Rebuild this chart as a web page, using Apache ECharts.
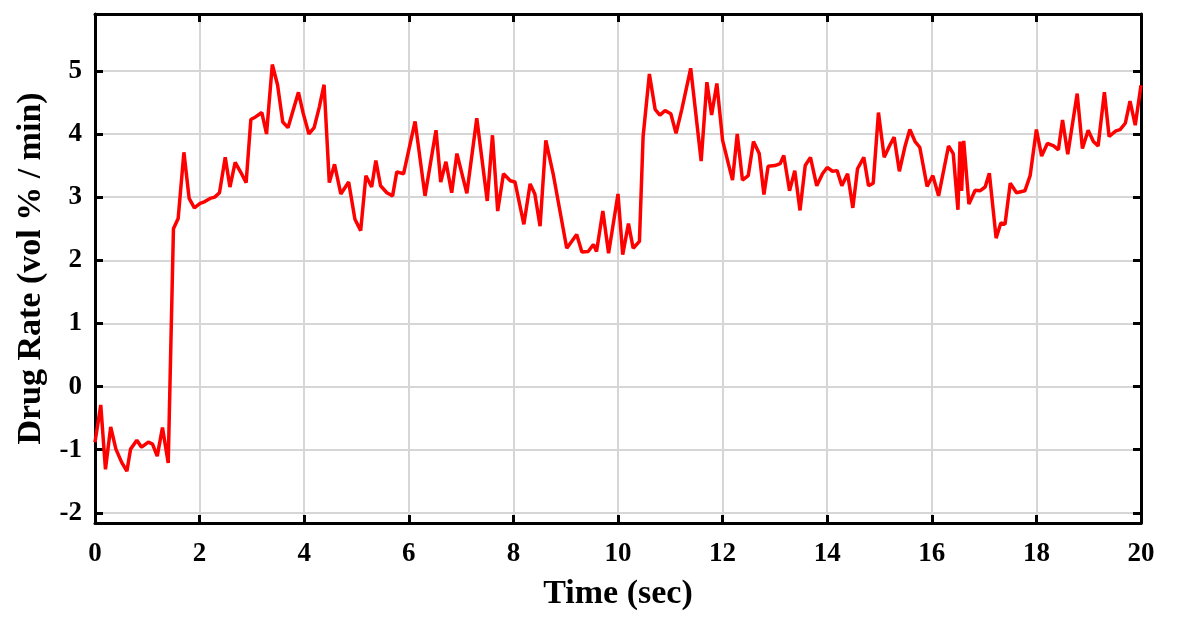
<!DOCTYPE html>
<html>
<head>
<meta charset="utf-8">
<script src="https://cdn.jsdelivr.net/npm/echarts@6/dist/echarts.min.js"></script>
<style>
  html, body { margin: 0; padding: 0; background: #fff; }
  #main { width: 1188px; height: 629px; }
</style>
</head>
<body>
<div id="main"></div>
<script>
// 时间 (sec)
var times = [
  0.0, 0.11, 0.2, 0.3, 0.4, 0.51, 0.61, 0.68, 0.8, 0.89,
  1.02, 1.1, 1.19, 1.29, 1.4, 1.5, 1.59, 1.7, 1.8, 1.9,
  2.01, 2.1, 2.2, 2.29, 2.38, 2.49, 2.58, 2.68, 2.79, 2.89,
  2.98, 3.07, 3.19, 3.28, 3.39, 3.49, 3.59, 3.69, 3.79, 3.89,
  3.98, 4.09, 4.19, 4.29, 4.38, 4.48, 4.58, 4.7, 4.85, 4.97,
  5.08, 5.18, 5.29, 5.37, 5.46, 5.58, 5.69, 5.77, 5.9, 6.12,
  6.31, 6.52, 6.61, 6.71, 6.82, 6.92, 7.11, 7.3, 7.5, 7.6,
  7.7, 7.81, 7.94, 8.03, 8.2, 8.32, 8.41, 8.51, 8.62, 8.76,
  8.89, 9.02, 9.21, 9.31, 9.43, 9.53, 9.59, 9.71, 9.82, 10.0,
  10.09, 10.2, 10.29, 10.41, 10.48, 10.6, 10.71, 10.8, 10.9, 11.01,
  11.11, 11.22, 11.39, 11.59, 11.7, 11.79, 11.89, 12.0, 12.11, 12.19,
  12.28, 12.38, 12.49, 12.59, 12.7, 12.79, 12.87, 13.0, 13.1, 13.17,
  13.28, 13.38, 13.48, 13.58, 13.68, 13.8, 13.91, 14.0, 14.1, 14.19,
  14.28, 14.39, 14.49, 14.58, 14.7, 14.79, 14.88, 14.98, 15.09, 15.19,
  15.28, 15.38, 15.49, 15.58, 15.68, 15.77, 15.91, 16.02, 16.13, 16.32,
  16.41, 16.5, 16.54, 16.57, 16.61, 16.71, 16.83, 16.92, 17.02, 17.1,
  17.23, 17.32, 17.4, 17.5, 17.62, 17.78, 17.88, 18.0, 18.1, 18.21,
  18.33, 18.42, 18.5, 18.6, 18.78, 18.88, 18.99, 19.09, 19.18, 19.3,
  19.39, 19.52, 19.6, 19.7, 19.79, 19.89, 20.0
];
// 给药速率 (vol % / min)
var rates = [
  -0.88, -0.29, -1.31, -0.64, -0.99, -1.2, -1.34, -0.99, -0.85, -0.96,
  -0.88, -0.91, -1.1, -0.65, -1.21, 2.5, 2.66, 3.71, 2.98, 2.83,
  2.9, 2.93, 2.98, 3.0, 3.07, 3.63, 3.16, 3.55, 3.39, 3.23,
  4.23, 4.27, 4.34, 4.0, 5.1, 4.78, 4.19, 4.1, 4.38, 4.66,
  4.33, 4.0, 4.1, 4.43, 4.78, 3.23, 3.52, 3.05, 3.24, 2.65,
  2.47, 3.34, 3.16, 3.58, 3.18, 3.07, 3.02, 3.4, 3.37, 4.2,
  3.02, 4.06, 3.24, 3.56, 3.07, 3.69, 3.06, 4.25, 2.94, 3.98,
  2.78, 3.37, 3.26, 3.24, 2.57, 3.21, 3.05, 2.54, 3.9, 3.37,
  2.78, 2.19, 2.41, 2.13, 2.14, 2.25, 2.14, 2.78, 2.11, 3.05,
  2.09, 2.58, 2.19, 2.3, 3.96, 4.95, 4.39, 4.3, 4.37, 4.32,
  4.01, 4.39, 5.04, 3.57, 4.82, 4.3, 4.8, 3.9, 3.53, 3.27,
  4.0, 3.27, 3.34, 3.88, 3.69, 3.04, 3.49, 3.5, 3.53, 3.66,
  3.1, 3.42, 2.79, 3.5, 3.63, 3.18, 3.37, 3.47, 3.41, 3.42,
  3.18, 3.37, 2.83, 3.45, 3.63, 3.18, 3.22, 4.34, 3.63, 3.81,
  3.95, 3.41, 3.81, 4.07, 3.88, 3.79, 3.17, 3.34, 3.02, 3.81,
  3.69, 2.8, 3.88, 3.1, 3.89, 2.89, 3.11, 3.1, 3.16, 3.38,
  2.35, 2.59, 2.57, 3.22, 3.07, 3.1, 3.34, 4.07, 3.65, 3.85,
  3.81, 3.75, 4.22, 3.68, 4.64, 3.77, 4.06, 3.88, 3.81, 4.66,
  3.96, 4.05, 4.07, 4.17, 4.52, 4.14, 4.77
];
var yTicks = [-2, -1, 0, 1, 2, 3, 4, 5];

var fontFamily = '"Liberation Serif", "Times New Roman", serif';

var lineData = times.map(function (t, i) {
  return [t, rates[i]];
});

var myChart = echarts.init(document.getElementById('main'));

var boxLine = { show: true, onZero: false, lineStyle: { color: '#000', width: 3 } };
var boxTick = { show: true, inside: true, length: 8, lineStyle: { color: '#000', width: 3 } };
var gridLine = { show: true, lineStyle: { color: '#d6d6d6', width: 2 } };
var tickFont = { fontFamily: fontFamily, fontWeight: 'bold', fontSize: 27, color: '#000' };
var titleFont = { fontFamily: fontFamily, fontWeight: 'bold', fontSize: 34, color: '#000' };

myChart.setOption({
  animation: false,
  backgroundColor: '#fff',
  grid: { left: 95, right: 47, top: 14, bottom: 106 },
  xAxis: [
    {
      type: 'value',
      min: 0,
      max: 20,
      interval: 2,
      name: 'Time (sec)',
      nameLocation: 'middle',
      nameGap: 54,
      nameTextStyle: titleFont,
      axisLine: boxLine,
      axisTick: boxTick,
      axisLabel: Object.assign({ margin: 18 }, tickFont),
      splitLine: gridLine
    },
    {
      type: 'value',
      position: 'top',
      min: 0,
      max: 20,
      interval: 2,
      axisLine: boxLine,
      axisTick: boxTick,
      axisLabel: { show: false },
      splitLine: { show: false }
    }
  ],
  yAxis: [
    {
      type: 'value',
      min: -2.16,
      max: 5.9,
      name: 'Drug Rate (vol % / min)',
      nameLocation: 'middle',
      nameGap: 47,
      nameTextStyle: titleFont,
      axisLine: boxLine,
      axisTick: Object.assign({}, boxTick, { customValues: yTicks }),
      axisLabel: Object.assign({ customValues: yTicks, margin: 13 }, tickFont),
      splitLine: gridLine
    },
    {
      type: 'value',
      position: 'right',
      min: -2.16,
      max: 5.9,
      axisLine: boxLine,
      axisTick: Object.assign({}, boxTick, { customValues: yTicks }),
      axisLabel: { show: false, customValues: yTicks },
      splitLine: { show: false }
    }
  ],
  series: [
    {
      name: 'Drug Rate',
      type: 'line',
      xAxisIndex: 0,
      yAxisIndex: 0,
      data: lineData,
      showSymbol: false,
      symbol: 'none',
      lineStyle: { color: '#ff0000', width: 3.5 },
      z: 5
    }
  ]
});
</script>
</body>
</html>
